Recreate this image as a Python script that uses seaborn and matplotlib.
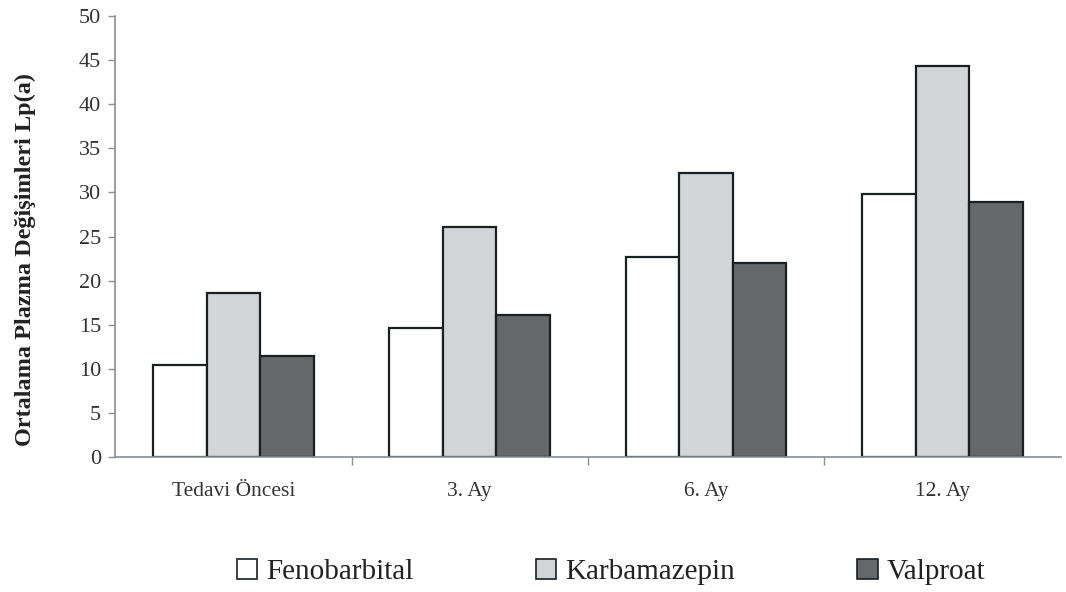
import matplotlib
matplotlib.use("Agg")
import matplotlib.pyplot as plt
import pandas as pd
import seaborn as sns
from matplotlib.patches import Patch

CATEGORIES = ['Tedavi Öncesi', '3. Ay', '6. Ay', '12. Ay']
FENOBARBITAL = [10.4, 14.6, 22.7, 29.8]
KARBAMAZEPIN = [18.6, 26.1, 32.2, 44.3]
VALPROAT = [11.4, 16.1, 22.0, 28.9]
SERIES = ['Fenobarbital', 'Karbamazepin', 'Valproat']
COLORS = ['#ffffff', '#d2d5d8', '#666768']
YTICKS = list(range(0, 55, 5))


def build_frame() -> pd.DataFrame:
    rows = []
    for name, vals in zip(SERIES, [FENOBARBITAL, KARBAMAZEPIN, VALPROAT]):
        for cat, v in zip(CATEGORIES, vals):
            rows.append({'Donem': cat, 'Ilac': name, 'Deger': v})
    return pd.DataFrame(rows)


def main():
    df = build_frame()
    sns.set_theme(style="white")
    plt.rcParams['font.family'] = ['Liberation Serif', 'DejaVu Serif']

    fig = plt.figure(figsize=(10.66, 5.92), dpi=100)
    ax = fig.add_axes([0.108, 0.228, 0.887, 0.745])
    sns.barplot(data=df, x='Donem', y='Deger', hue='Ilac', order=CATEGORIES,
                hue_order=SERIES, palette=COLORS, width=0.68,
                edgecolor='#1a1f22', linewidth=1.6, saturation=1,
                legend=False, ax=ax)

    ax.set_xlim(-0.5, len(CATEGORIES) - 0.5)
    ax.set_ylim(0, 50)
    ax.set_yticks(YTICKS)
    ax.tick_params(axis='y', labelsize=16, length=5, width=1,
                   color='#8a8f94', direction='out', left=True, pad=5,
                   labelcolor='#333333')
    ax.tick_params(axis='x', which='major', labelsize=15.5, length=0, pad=18,
                   labelcolor='#333333')
    ax.set_xticks([i + 0.5 for i in range(len(CATEGORIES) - 1)], minor=True)
    ax.tick_params(axis='x', which='minor', length=6, width=1,
                   color='#8a8f94', direction='out', bottom=True)
    for side in ['top', 'right']:
        ax.spines[side].set_visible(False)
    for side in ['left', 'bottom']:
        ax.spines[side].set_color('#8a8f94')
        ax.spines[side].set_linewidth(1.2)
    ax.set_xlabel('')
    ax.set_ylabel('Ortalama Plazma Değişimleri Lp(a)', fontsize=17.5,
                  fontweight='bold', color='#222222')
    ax.yaxis.set_label_coords(-0.084, 0.447)

    handles = [Patch(facecolor=c, edgecolor='#1a1f22', linewidth=1.2, label=s)
               for s, c in zip(SERIES, COLORS)]
    fig.legend(handles=handles, loc='center', bbox_to_anchor=(0.573, 0.034),
               ncol=3, frameon=False, fontsize=21, handlelength=0.7,
               handleheight=0.7, handletextpad=0.3, columnspacing=4.2,
               labelcolor='#222222')

    fig.savefig('out.png', dpi=100)


if __name__ == '__main__':
    main()
